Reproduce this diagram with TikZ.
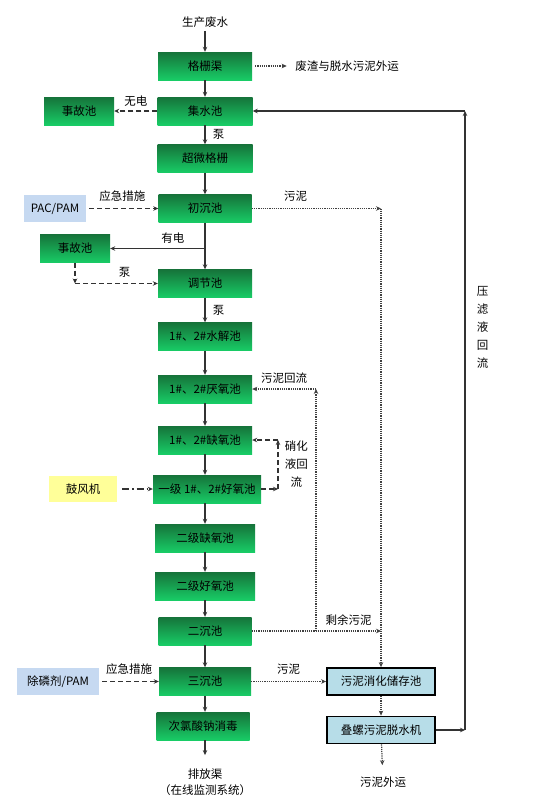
\documentclass[tikz,border=0pt]{standalone}
\usepackage{fontspec}
\setmainfont{Noto Sans CJK SC}
\usetikzlibrary{arrows.meta,positioning}
\definecolor{tankdark}{RGB}{22,115,58}
\definecolor{tanklite}{RGB}{24,204,102}
\definecolor{agentblue}{RGB}{198,217,241}
\definecolor{blowyellow}{RGB}{255,255,153}
\definecolor{sludgecyan}{RGB}{183,221,232}

\begin{document}
\begin{tikzpicture}[
  x=1pt, y=-1pt,
  font=\fontsize{11.5}{13}\selectfont,
  tank/.style={top color=tankdark, middle color=tanklite, bottom color=tanklite, minimum height=28pt, inner sep=1pt, align=center},
  agent/.style={fill=agentblue, minimum height=27pt, inner sep=1pt, align=center},
  blower/.style={fill=blowyellow, minimum height=26pt, inner sep=1pt, align=center},
  sludge/.style={draw=black, line width=1.8pt, fill=sludgecyan, minimum width=108pt, minimum height=27pt, inner sep=1pt, align=center},
  line/.style={-{Stealth[length=5pt,width=4.5pt]}, line width=1.1pt, draw=black!80},
  dashline/.style={line, dash pattern=on 5pt off 3pt},
  dotline/.style={line, line width=1.2pt, dash pattern=on 1.2pt off 1pt, draw=black!75},
  dashdot/.style={line, dash pattern=on 7pt off 3pt on 1.5pt off 3pt}
]
\useasboundingbox (0,0) rectangle (553,801);

% main treatment line
\node (src) at (205,22) {生产废水};
\node[tank, minimum width=94pt] (grid) at (205,66) {格栅渠};
\node[tank, minimum width=95pt] (collect) at (205,111) {集水池};
\node[tank, minimum width=95pt] (ultra) at (205,158.5) {超微格栅};
\node[tank, minimum width=93pt] (prim) at (205,208.5) {初沉池};
\node[tank, minimum width=94pt] (equal) at (205,283.5) {调节池};
\node[tank, minimum width=94pt] (hydro) at (205,336.5) {1\#、2\#水解池};
\node[tank, minimum width=94pt] (anae) at (205,389) {1\#、2\#厌氧池};
\node[tank, minimum width=94pt] (anox) at (205,440) {1\#、2\#缺氧池};
\node[tank, minimum width=108pt] (aero) at (207,489) {一级 1\#、2\#好氧池};
\node[tank, minimum width=100pt] (anox2) at (205,538) {二级缺氧池};
\node[tank, minimum width=100pt] (aero2) at (205,586) {二级好氧池};
\node[tank, minimum width=93pt] (sec) at (205,631) {二沉池};
\node[tank, minimum width=92pt] (tert) at (205,681.5) {三沉池};
\node[tank, minimum width=93pt] (clo) at (203,726) {次氯酸钠消毒};
\node[align=center] (drain) at (205,782) {排放渠\\[3pt]（在线监测系统）};

% side units
\node (waste) at (347,66) {废渣与脱水污泥外运};
\node[tank, minimum width=70pt] (acc1) at (79,111) {事故池};
\node[agent, minimum width=62pt] (pac) at (55,208.5) {PAC/PAM};
\node[tank, minimum width=70pt] (acc2) at (75,248.5) {事故池};
\node[blower, minimum width=68pt] (blow) at (83,489) {鼓风机};
\node[agent, minimum width=82pt] (pam) at (58,681.5) {除磷剂/PAM};
\node[sludge] (store) at (381,681.5) {污泥消化储存池};
\node[sludge] (press) at (381,730) {叠螺污泥脱水机};
\node (out) at (383,782) {污泥外运};

\coordinate (s1) at (381,208.5);
\coordinate (b1) at (205,248.5);
\coordinate (b2) at (75,283.5);
\coordinate (n1) at (278,489);
\coordinate (n2) at (278,440);
\coordinate (r1) at (316,631);
\coordinate (r2) at (316,389);
\coordinate (s2) at (381,631);
\coordinate (p1) at (465,730);
\coordinate (p2) at (465,111);

\draw[line] (src) -- (grid);
\draw[dotline, shorten <=3pt, shorten >=5pt] (grid) -- (waste);
\draw[line] (grid) -- (collect);
\draw[dashline] (collect) -- node[above, yshift=1pt] {无电} (acc1);
\draw[line] (collect) -- node[right, xshift=4pt] {泵} (ultra);
\draw[line] (ultra) -- (prim);
\draw[dashline, shorten <=3pt] (pac) -- node[above, yshift=3pt] {应急措施} (prim);
\draw[dotline] (prim) -- node[above, pos=0.34, yshift=3pt] {污泥} (s1);
\draw[dotline] (s1) -- (store);
\draw[line] (prim) -- (equal);
\draw[line] (b1) -- node[above, pos=0.34, yshift=1pt] {有电} (acc2);
\draw[dashline] (acc2) -- (b2);
\draw[dashline] (b2) -- node[above, pos=0.6, yshift=2pt] {泵} (equal);
\draw[line] (equal) -- node[right, xshift=4pt] {泵} (hydro);
\draw[line] (hydro) -- (anae);
\draw[line] (anae) -- (anox);
\draw[line] (anox) -- (anox |- aero.north);
\draw[dashdot, shorten <=5pt] (blow) -- (aero);
\draw[dashline] (aero) -- (n1);
\draw[dashline] (n1) -- node[right, xshift=3pt, align=center] {硝化\\[5pt]液回\\[5pt]流} (n2);
\draw[dashline] (n2) -- (anox);
\draw[line] (anox |- aero.south) -- (anox2);
\draw[line] (anox2) -- (aero2);
\draw[line] (aero2) -- (sec);
\draw[dotline] (sec) -- node[above, pos=0.75, yshift=2pt] {剩余污泥} (s2);
\draw[dotline] (r1) -- (r2);
\draw[dotline] (r2) -- node[above, yshift=2pt] {污泥回流} (anae);
\draw[line] (sec) -- (tert);
\draw[dashline, shorten <=3pt] (pam) -- node[above, yshift=3pt] {应急措施} (tert);
\draw[dotline] (tert) -- node[above, yshift=3pt] {污泥} (store);
\draw[line] (tert) -- (tert |- clo.north);
\draw[line, shorten >=10pt] (tert |- clo.south) -- (tert |- drain.north);
\draw[dotline] (store) -- (press);
\draw[dotline, shorten >=8pt] (press) -- (out);
\draw[line] (press) -- (p1);
\draw[line] (p1) -- node[pos=0.65, right=8pt, align=center] {压\\[5pt]滤\\[5pt]液\\[5pt]回\\[5pt]流} (p2);
\draw[line] (p2) -- (collect);

\end{tikzpicture}
\end{document}
